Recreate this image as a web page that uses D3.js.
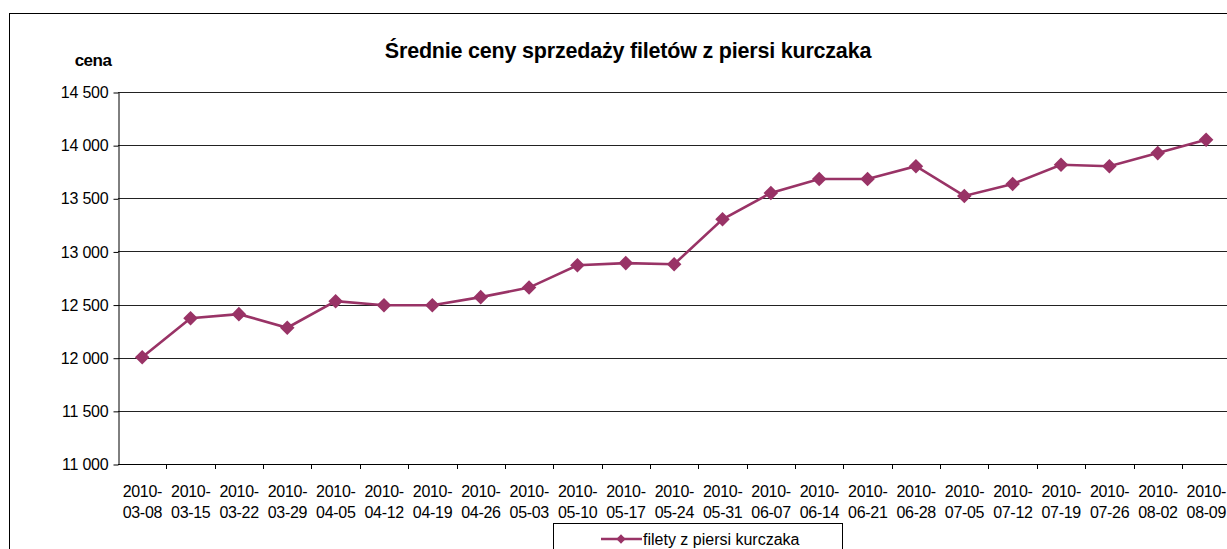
<!DOCTYPE html>
<meta charset="utf-8">
<script src="https://cdn.jsdelivr.net/npm/d3@7"></script>
<style>
  body { margin: 0; background: #fff; }
  text { font-family: "Liberation Sans", Arial, sans-serif; }
</style>
<body>
<script>
  // dates (tick labels) and weekly prices
  var dates = ["2010-03-08", "2010-03-15", "2010-03-22", "2010-03-29", "2010-04-05", "2010-04-12",
    "2010-04-19", "2010-04-26", "2010-05-03", "2010-05-10", "2010-05-17", "2010-05-24",
    "2010-05-31", "2010-06-07", "2010-06-14", "2010-06-21", "2010-06-28", "2010-07-05",
    "2010-07-12", "2010-07-19", "2010-07-26", "2010-08-02", "2010-08-09"];
  var prices = [12005, 12372, 12410, 12282, 12532, 12493, 12493, 12570, 12660, 12870, 12890, 12880,
    13302, 13550, 13682, 13682, 13802, 13522, 13635, 13815, 13802, 13925, 14050];
  var yTicks = [11000, 11500, 12000, 12500, 13000, 13500, 14000, 14500];
  var seriesName = "filety z piersi kurczaka";
  var color = "#993366";

  var W = 1227, H = 549;
  var plotLeft = 118, plotTop = 92, plotBottom = 464;
  var band = 48.36;

  var svg = d3.select("body").append("svg")
    .attr("width", W).attr("height", H);

  // outer chart border
  svg.append("rect")
    .attr("x", 9.5).attr("y", 13.5)
    .attr("width", W).attr("height", H)
    .attr("fill", "none").attr("stroke", "#000").attr("stroke-width", 1);

  var x = d3.scaleBand()
    .domain(dates)
    .range([plotLeft, plotLeft + band * dates.length]);

  var y = d3.scaleLinear()
    .domain([11000, 14500])
    .range([plotBottom, plotTop]);

  // gridlines
  svg.append("g").selectAll("line")
    .data(yTicks.slice(1))
    .enter().append("line")
    .attr("x1", plotLeft).attr("x2", W)
    .attr("y1", function (d) { return Math.round(y(d)) + 0.5; })
    .attr("y2", function (d) { return Math.round(y(d)) + 0.5; })
    .attr("stroke", "#222").attr("stroke-width", 1);

  // y axis
  var fmt = function (d) { return d3.format(",")(d).replace(",", "\u00a0"); };
  var gy = svg.append("g")
    .attr("transform", "translate(" + (plotLeft + 0.5) + ",0.5)")
    .call(d3.axisLeft(y).tickValues(yTicks).tickSize(5).tickSizeOuter(0).tickFormat(fmt));
  gy.selectAll("text").attr("font-size", 16).attr("fill", "#000").attr("x", -10)
    .attr("font-family", "Liberation Sans, Arial, sans-serif").style("letter-spacing", "-0.2px");
  gy.select(".domain").attr("stroke", "#000");

  // x axis
  svg.append("line")
    .attr("x1", plotLeft).attr("x2", W)
    .attr("y1", plotBottom + 0.5).attr("y2", plotBottom + 0.5)
    .attr("stroke", "#000");
  svg.append("g").selectAll("line")
    .data(dates)
    .enter().append("line")
    .attr("x1", function (d) { return Math.round(x(d) + band) + 0.5; })
    .attr("x2", function (d) { return Math.round(x(d) + band) + 0.5; })
    .attr("y1", plotBottom).attr("y2", plotBottom + 5)
    .attr("stroke", "#000");

  var xl = svg.append("g").selectAll("text")
    .data(dates)
    .enter().append("text")
    .attr("x", function (d) { return x(d) + band / 2 - 19.5; })
    .attr("y", 497)
    .attr("font-size", 16)
    .style("letter-spacing", "-0.3px");
  xl.append("tspan").text(function (d) { return d.slice(0, 5); });
  xl.append("tspan")
    .attr("x", function (d) { return x(d) + band / 2 - 19.5; })
    .attr("dy", 20.5)
    .text(function (d) { return d.slice(5); });

  // line
  var line = d3.line()
    .x(function (d, i) { return x(dates[i]) + band / 2; })
    .y(function (d) { return y(d); });
  svg.append("path")
    .datum(prices)
    .attr("d", line)
    .attr("fill", "none")
    .attr("stroke", color)
    .attr("stroke-width", 2.6);

  var diamond = d3.symbol().type(d3.symbolDiamond2).size(135);
  svg.append("g").selectAll("path")
    .data(prices)
    .enter().append("path")
    .attr("d", diamond)
    .attr("transform", function (d, i) {
      return "translate(" + (x(dates[i]) + band / 2) + "," + y(d) + ")";
    })
    .attr("fill", color);

  // title and axis label
  svg.append("text")
    .attr("x", 628).attr("y", 58)
    .attr("text-anchor", "middle")
    .attr("font-size", 21.5).attr("font-weight", "bold")
    .style("letter-spacing", "-0.2px")
    .text("Średnie ceny sprzedaży filetów z piersi kurczaka");
  svg.append("text")
    .attr("x", 93).attr("y", 66)
    .attr("text-anchor", "middle")
    .attr("font-size", 17).attr("font-weight", "bold")
    .style("letter-spacing", "-0.5px")
    .text("cena");

  // legend
  var lg = svg.append("g");
  lg.append("rect")
    .attr("x", 553.5).attr("y", 523.5)
    .attr("width", 289).attr("height", 40)
    .attr("fill", "#fff").attr("stroke", "#000");
  lg.append("line")
    .attr("x1", 601).attr("x2", 642)
    .attr("y1", 539).attr("y2", 539)
    .attr("stroke", color).attr("stroke-width", 2.6);
  lg.append("path")
    .attr("d", d3.symbol().type(d3.symbolDiamond2).size(55))
    .attr("transform", "translate(621,539)")
    .attr("fill", color);
  lg.append("text")
    .attr("x", 643).attr("y", 545)
    .attr("font-size", 16)
    .text(seriesName);
</script>
</body>
